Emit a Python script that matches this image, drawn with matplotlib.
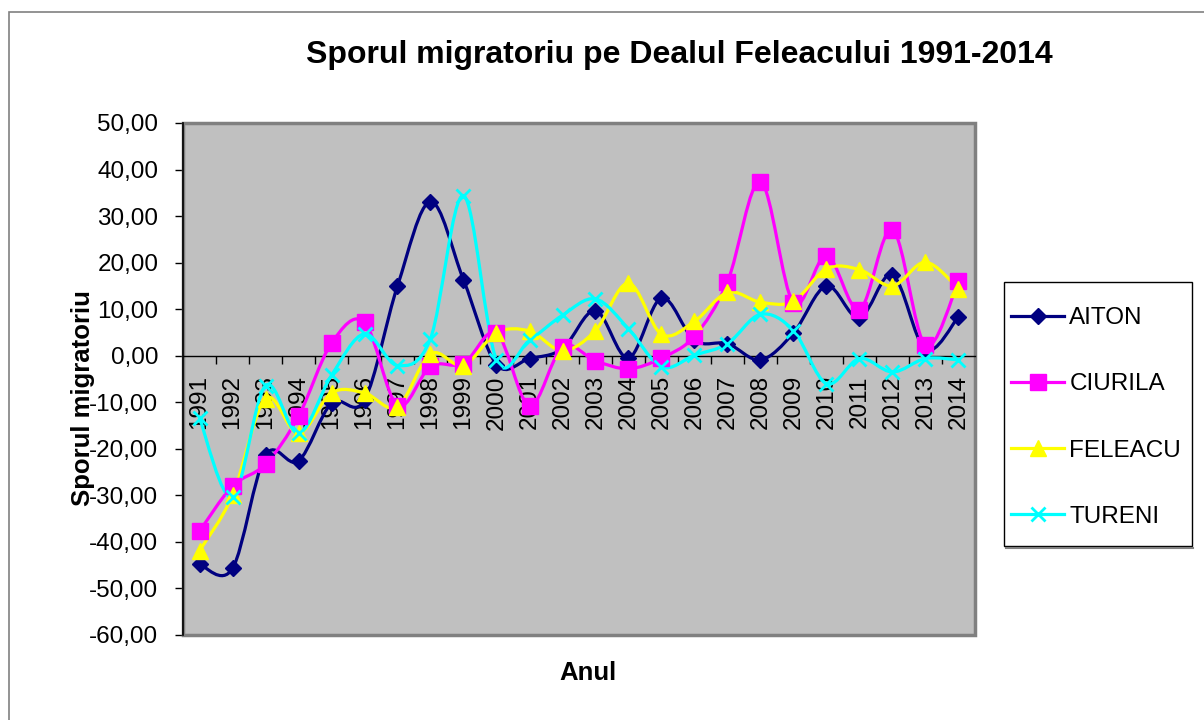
# ============================================
# plot.py
# Sporul migratoriu pe Dealul Feleacului 1991-2014
# ============================================

import numpy as np
import matplotlib
matplotlib.use("Agg")
import matplotlib.pyplot as plt
from matplotlib.path import Path
from matplotlib.patches import PathPatch, Rectangle
from matplotlib.lines import Line2D
from matplotlib.ticker import FuncFormatter, FixedLocator

# -------------------
# Data
# -------------------
years = [str(y) for y in range(1991, 2015)]

aiton = [-44.8, -45.7, -21.4, -22.6, -10.2, -9.5, 15.0, 33.1, 16.3, -1.9,
         -0.6, 1.5, 9.7, -0.5, 12.4, 3.3, 2.6, -0.9, 4.9, 15.0,
         8.1, 17.4, 1.3, 8.4]
ciurila = [-37.7, -28.0, -23.3, -13.0, 2.7, 7.2, -10.7, -2.3, -1.7, 4.9,
           -10.7, 1.9, -1.1, -2.8, -0.5, 4.2, 15.9, 37.4, 11.3, 21.5,
           9.9, 27.1, 2.2, 16.0]
feleacu = [-41.9, -30.0, -9.2, -16.7, -8.0, -8.0, -11.0, 0.4, -2.1, 4.9,
           5.3, 1.1, 5.4, 15.6, 4.6, 7.4, 13.6, 11.5, 11.7, 18.7,
           18.5, 15.0, 20.1, 14.4]
tureni = [-13.4, -30.4, -6.4, -16.7, -4.2, 4.7, -2.1, 3.7, 34.4, -0.9,
          3.3, 8.7, 12.2, 5.8, -2.4, 0.1, 2.6, 8.9, 5.4, -6.0,
          -0.6, -3.5, -0.6, -0.9]

series = [
    ("AITON", aiton, "#000080", "D", 8.5, 1.0),
    ("CIURILA", ciurila, "#FF00FF", "s", 11, 1.0),
    ("FELEACU", feleacu, "#FFFF00", "^", 11.5, 1.0),
    ("TURENI", tureni, "#00FFFF", "x", 10.5, 2.0),
]

FONT = "Liberation Sans"
plt.rcParams["font.family"] = [FONT, "DejaVu Sans"]


def smooth_path(xs, ys):
    # Excel-like smoothed line: cubic bezier with Catmull-Rom control points
    pts = np.column_stack([xs, ys]).astype(float)
    n = len(pts)
    verts = [pts[0]]
    codes = [Path.MOVETO]
    for i in range(n - 1):
        p0 = pts[i - 1] if i > 0 else pts[i]
        p1 = pts[i]
        p2 = pts[i + 1]
        p3 = pts[i + 2] if i + 2 < n else pts[i + 1]
        c1 = p1 + (p2 - p0) / 6.0
        c2 = p2 - (p3 - p1) / 6.0
        verts += [c1, c2, p2]
        codes += [Path.CURVE4] * 3
    return Path(verts, codes)


# -------------------
# Figure
# -------------------
W, H = 1204, 720
fig = plt.figure(figsize=(W / 100, H / 100), dpi=100)
ax = fig.add_axes([183 / W, 1 - 635 / H, (975 - 183) / W, (635 - 123) / H])
ax.set_facecolor("#C0C0C0")

# outer chart border
fig.patches.append(Rectangle((9 / W, -0.05), 1.2, 1 - 12 / H + 0.05,
                             transform=fig.transFigure, fill=False,
                             edgecolor="#808080", lw=1.2))

x = np.arange(len(years))
handles = []
for name, vals, color, marker, ms, mew in series:
    ax.add_patch(PathPatch(smooth_path(x, vals), facecolor="none",
                           edgecolor=color, lw=2.3, zorder=3))
    ax.plot(x, vals, linestyle="none", marker=marker, ms=ms, color=color,
            mec=color, mew=mew, zorder=4)
    handles.append(Line2D([], [], color=color, lw=2.3, marker=marker, ms=ms,
                          mec=color, mew=mew))

ax.set_xlim(-0.5, len(years) - 0.5)
ax.set_ylim(-60, 50)

# -------------------
# Axes styling
# -------------------
for s in ["top", "right"]:
    ax.spines[s].set_visible(False)
ax.spines["bottom"].set_position(("data", 0))
ax.spines["bottom"].set_color("black")
ax.spines["bottom"].set_linewidth(1.0)
ax.spines["left"].set_color("black")
ax.spines["left"].set_linewidth(1.2)
ax.spines["left"].set_zorder(5)
ax.add_patch(Rectangle((0, 0), 1, 1, transform=ax.transAxes, fill=False,
                       edgecolor="#808080", lw=2.5, clip_on=False, zorder=2))

ax.set_yticks(np.arange(-60, 51, 10))
ax.yaxis.set_major_formatter(FuncFormatter(
    lambda v, p: f"{v:.2f}".replace("-0.00", "0.00").replace(".", ",")))
ax.tick_params(axis="y", direction="out", length=5.8, width=1.0, pad=12,
               labelsize=17.5, colors="black")

ax.set_xticks(x)
ax.set_xticklabels(years, rotation=90, fontsize=17.5)
ax.xaxis.set_minor_locator(FixedLocator(np.arange(-0.5, len(years), 1.0)))
ax.tick_params(axis="x", which="major", length=0, pad=14)
ax.tick_params(axis="x", which="minor", direction="out", length=5.8, width=1.0)
for lab in ax.get_xticklabels():
    lab.set_va("top")

# -------------------
# Text
# -------------------
fig.text(679.5 / W, 1 - 55.5 / H, "Sporul migratoriu pe Dealul Feleacului 1991-2014",
         ha="center", va="center", fontsize=23, fontweight="bold")
fig.text(83 / W, 1 - 398 / H, "Sporul migratoriu", rotation=90,
         ha="center", va="center", fontsize=18.5, fontweight="bold")
fig.text(588 / W, 1 - 673 / H, "Anul", ha="center", va="center",
         fontsize=18.5, fontweight="bold")

# -------------------
# Legend (box drawn separately)
# -------------------
fig.patches.append(Rectangle((1004 / W, 1 - 546 / H), 188 / W, 264 / H,
                             transform=fig.transFigure, facecolor="white",
                             edgecolor="black", lw=1.0, zorder=1))
fig.lines.append(Line2D([1006 / W, 1193 / W], [1 - 547.5 / H, 1 - 547.5 / H],
                        transform=fig.transFigure, color="#808080", lw=1.5))
leg = fig.legend(handles, [s[0] for s in series], loc="upper left",
                 bbox_to_anchor=(1011 / W, 1 - 307 / H), bbox_transform=fig.transFigure,
                 fontsize=17.5, frameon=False, handlelength=2.2, handletextpad=0.2,
                 labelspacing=1.82, borderpad=0, borderaxespad=0)
leg.set_zorder(6)

fig.savefig("out.png", dpi=100)
